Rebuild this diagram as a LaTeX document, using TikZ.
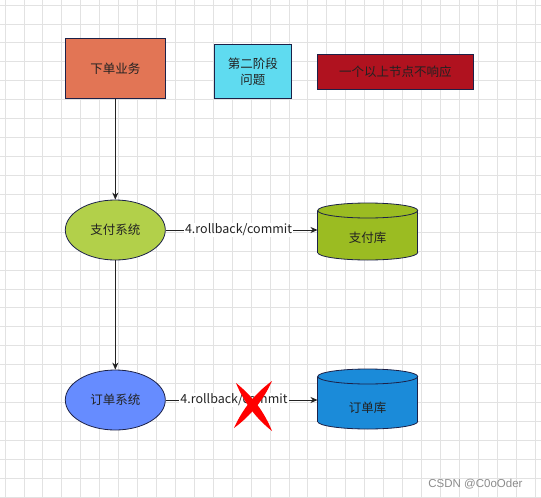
\documentclass[tikz,border=0pt]{standalone}
\usepackage{fontspec}
\setmainfont{Noto Sans CJK SC}
\newfontfamily\wmfont{Liberation Sans}
\usetikzlibrary{arrows.meta,shapes.geometric}
\definecolor{gridc}{HTML}{E2E2E2}
\definecolor{strokec}{HTML}{1C2148}
\definecolor{txtc}{HTML}{222222}
\definecolor{orangec}{HTML}{E27555}
\definecolor{cyanc}{HTML}{5FDBF0}
\definecolor{redboxc}{HTML}{B0121F}
\definecolor{greenc}{HTML}{B2D04A}
\definecolor{greendb}{HTML}{9BBC22}
\definecolor{bluec}{HTML}{668CFF}
\definecolor{bluedb}{HTML}{1B8BD9}
\definecolor{xred}{HTML}{FF0000}
\tikzset{
  gridline/.style={draw=gridc, line width=0.8pt},
  box/.style={draw=strokec, line width=0.8pt, rectangle, inner sep=0pt, text=txtc,
    font=\fontsize{12.5}{16}\selectfont, align=center},
  ell/.style={draw=strokec, line width=0.8pt, ellipse, inner sep=0pt,
    minimum width=100pt, minimum height=60pt, text=txtc, font=\fontsize{12.5}{16}\selectfont},
  dbbody/.style={draw=strokec, line width=0.8pt},
  anchorbox/.style={rectangle, inner sep=0pt, minimum width=100pt, minimum height=57pt,
    text=txtc, font=\fontsize{12.5}{16}\selectfont},
  conn/.style={draw=txtc, line width=0.8pt, -{Stealth[length=7pt,width=6pt]}},
  lbl/.style={fill=white, inner sep=1pt, text=txtc, font=\fontsize{12.5}{16}\selectfont},
}
\begin{document}
\begin{tikzpicture}[x=1pt,y=-1pt]
\useasboundingbox (0,0) rectangle (541,498);
\fill[white] (0,0) rectangle (541,498);
% grid
\foreach \i in {0,...,28} \draw[gridline] ({5+\i*18.93},0) -- ({5+\i*18.93},498);
\foreach \j in {0,...,26} \draw[gridline] (0,{5+\j*18.93}) -- (541,{5+\j*18.93});

% top boxes
\node[box, fill=orangec, minimum width=100pt, minimum height=60pt] (order) at (115.3,68.3) {下单业务};
\node[box, fill=cyanc, minimum width=77pt, minimum height=54pt] (phase) at (252.8,71.3) {第二阶段\\问题};
\node[box, fill=redboxc, minimum width=156pt, minimum height=35pt] (nores) at (395.3,71.8) {一个以上节点不响应};

% ellipses
\node[ell, fill=greenc] (pay) at (115.3,230) {支付系统};
\node[ell, fill=bluec] (ordsys) at (115.3,400) {订单系统};

% cylinder 支付库
\filldraw[dbbody, fill=greendb] (367.7,252.5) ellipse (50 and 7.5);
\fill[greendb] (317.7,210.5) rectangle (417.7,252.5);
\draw[dbbody] (317.7,210.5) -- (317.7,252.5) (417.7,210.5) -- (417.7,252.5);
\filldraw[dbbody, fill=greendb] (367.7,210.5) ellipse (50 and 7.5);
\node[anchorbox] (paydb) at (367.7,231.5) {};
\node[text=txtc, font=\fontsize{12.5}{16}\selectfont] (paydbtxt) at (367.7,238) {支付库};

% cylinder 订单库
\filldraw[dbbody, fill=bluedb] (367.7,421.5) ellipse (50 and 7.5);
\fill[bluedb] (317.7,376.5) rectangle (417.7,421.5);
\draw[dbbody] (317.7,376.5) -- (317.7,421.5) (417.7,376.5) -- (417.7,421.5);
\filldraw[dbbody, fill=bluedb] (367.7,376.5) ellipse (50 and 7.5);
\node[anchorbox] (orddb) at (367.7,400) {};
\node[text=txtc, font=\fontsize{12.5}{16}\selectfont] (orddbtxt) at (367.7,408) {订单库};

% connectors
\draw[conn] (order.south) -- (pay.north);
\draw[conn] (pay.south) -- (ordsys.north);
\draw[conn] (pay.east) -- (paydb.west |- pay.east) node[lbl, pos=0.48] (l1) {4.rollback/commit};
\draw[conn] (ordsys.east) -- (orddb.west |- ordsys.east) node[lbl, pos=0.45] (l2) {4.rollback/commit};

% red X
\fill[xred] (236,383) .. controls (252.2,395.8) and (264.2,411.8) .. (272,431)
  .. controls (255.8,418.2) and (243.8,402.2) .. (236,383) -- cycle;
\fill[xred] (272,381) .. controls (263.45,400) and (250.79,415.67) .. (234,428)
  .. controls (242.55,409) and (255.21,393.33) .. (272,381) -- cycle;

% watermark
\node[text=black!45, font=\wmfont\fontsize{11.5}{13}\selectfont, inner sep=0pt] (wm) at (475.5,484) {CSDN @C0oOder};
\end{tikzpicture}
\end{document}
